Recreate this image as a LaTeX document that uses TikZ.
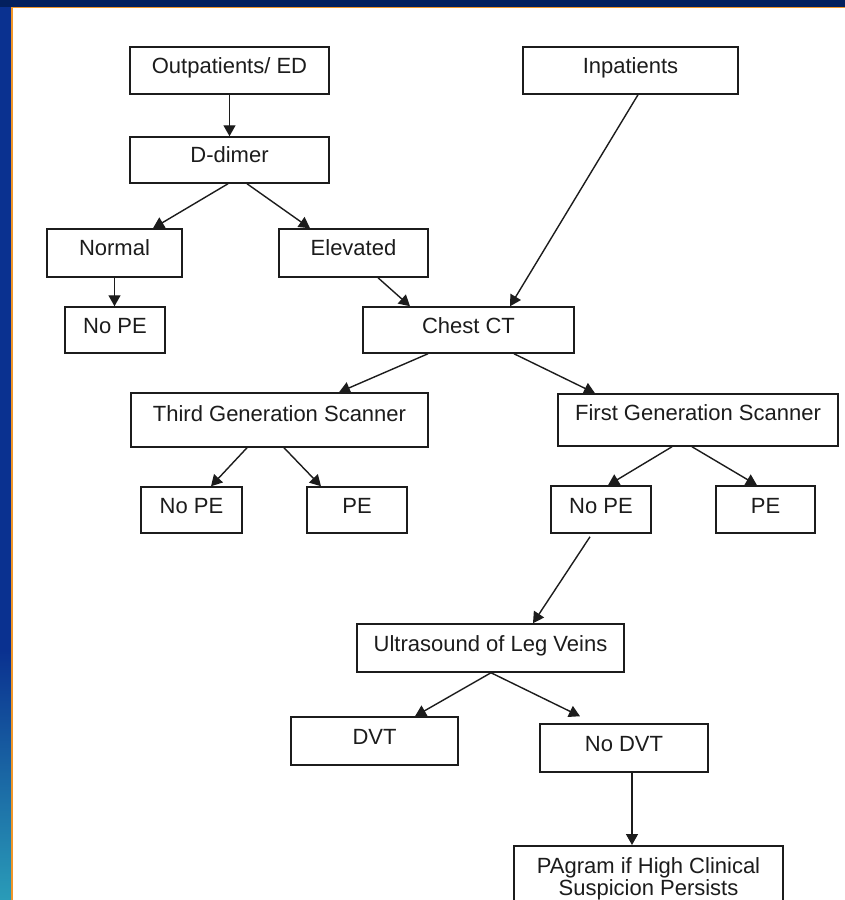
\documentclass[tikz,border=0pt]{standalone}
\usepackage{fontspec}
\setmainfont{Liberation Sans}
\usetikzlibrary{arrows.meta,calc}
\definecolor{ink}{HTML}{1C1C1C}
\definecolor{topnavy}{HTML}{03205E}
\definecolor{sideblue}{HTML}{0A3190}
\definecolor{sideteal}{HTML}{2A9CB8}
\definecolor{rimorange}{HTML}{F0962A}
\begin{document}
\begin{tikzpicture}[x=1pt,y=-1pt,
  box/.style={draw=ink, line width=1.5pt, rectangle, inner xsep=0pt, inner ysep=0pt,
    anchor=base, text=ink, font=\fontsize{22}{22}\selectfont},
  arr/.style={draw=ink, line width=1.4pt, -{Triangle[length=11pt,width=12pt]}}]
\useasboundingbox (0,0) rectangle (845,900);
\begin{scope}
\clip (0,0) rectangle (845,900);
% frame
\fill[topnavy] (0,0) rectangle (845,6.5);
\fill[sideblue] (0,6.5) rectangle (11,650);
\shade[top color=sideblue, bottom color=sideteal] (0,650) rectangle (11,900.5);
\fill[rimorange] (11,6.5) rectangle (845,7.8);
\fill[rimorange] (11,6.5) rectangle (12.5,900);
\fill[white] (12.5,7.8) rectangle (845,900);

% boxes
\node[box, minimum width=199pt, text height=26pt, text depth=21pt] (out) at (229.5,73) {Outpatients/ ED};
\node[box, minimum width=215pt, text height=26pt, text depth=21pt] (inp) at (630.5,73) {Inpatients};
\node[box, minimum width=199pt, text height=25pt, text depth=21pt] (dd) at (229.5,162) {D-dimer};
\node[box, minimum width=135pt, text height=26pt, text depth=22pt] (normal) at (114.5,255) {Normal};
\node[box, minimum width=149pt, text height=26pt, text depth=22pt] (elev) at (353.5,255) {Elevated};
\node[box, minimum width=100pt, text height=26pt, text depth=20pt] (nope1) at (115,333) {No PE};
\node[box, minimum width=211pt, text height=26pt, text depth=20pt] (ct) at (468.5,333) {Chest CT};
\node[box, minimum width=297pt, text height=28pt, text depth=26pt] (third) at (279.5,421) {Third Generation Scanner};
\node[box, minimum width=280pt, text height=26pt, text depth=26pt] (first) at (698,420) {First Generation Scanner};
\node[box, minimum width=101pt, text height=26pt, text depth=20pt] (nope2) at (191.5,513) {No PE};
\node[box, minimum width=100pt, text height=26pt, text depth=20pt] (pe2) at (357,513) {PE};
\node[box, minimum width=100pt, text height=27pt, text depth=20pt] (nope3) at (601,513) {No PE};
\node[box, minimum width=99pt, text height=27pt, text depth=20pt] (pe3) at (765.5,513) {PE};
\node[box, minimum width=267pt, text height=27pt, text depth=21pt] (us) at (490.5,651) {Ultrasound of Leg Veins};
\node[box, minimum width=167pt, text height=27pt, text depth=21pt] (dvt) at (374.5,744) {DVT};
\node[box, minimum width=168pt, text height=27pt, text depth=21pt] (nodvt) at (624,751) {No DVT};
\node[box, anchor=north, minimum width=269pt, inner ysep=12pt, align=center] (pag) at (648.5,845)
  {PAgram if High Clinical\\Suspicion Persists};

% connectors
\draw[arr] (out.south) -- (dd.north);
\draw[arr] ([xshift=-1.5pt]dd.south) -- ([xshift=38.5pt]normal.north);
\draw[arr] ([xshift=17.5pt]dd.south) -- ([xshift=-43.5pt]elev.north);
\draw[arr] (normal.south) -- (normal.south |- nope1.north);
\draw[arr] ([xshift=24.5pt]elev.south) -- ([xshift=-58.5pt]ct.north);
\draw[arr] ([xshift=7.5pt]inp.south) -- ([xshift=41.5pt]ct.north);
\draw[arr] ([xshift=-40.5pt]ct.south) -- ([xshift=59.5pt]third.north);
\draw[arr] ([xshift=45.5pt]ct.south) -- ([xshift=-103pt]first.north);
\draw[arr] ([xshift=-32.5pt]third.south) -- ([xshift=19.5pt]nope2.north);
\draw[arr] ([xshift=4.5pt]third.south) -- ([xshift=-36pt]pe2.north);
\draw[arr] ([xshift=-26pt]first.south) -- ([xshift=7pt]nope3.north);
\draw[arr] ([xshift=-6pt]first.south) -- ([xshift=-8.5pt]pe3.north);
\draw[arr] ([xshift=-11pt,yshift=-3pt]nope3.south) -- ([xshift=42.5pt]us.north);
\draw[arr] ([xshift=0.5pt]us.south) -- ([xshift=40.5pt]dvt.north);
\draw[arr] ([xshift=0.5pt]us.south) -- ([xshift=-44pt,yshift=7pt]nodvt.north);
\draw[arr] ([xshift=8pt]nodvt.south) -- ([xshift=8pt]nodvt.south |- pag.north);
\end{scope}
\end{tikzpicture}
\end{document}
